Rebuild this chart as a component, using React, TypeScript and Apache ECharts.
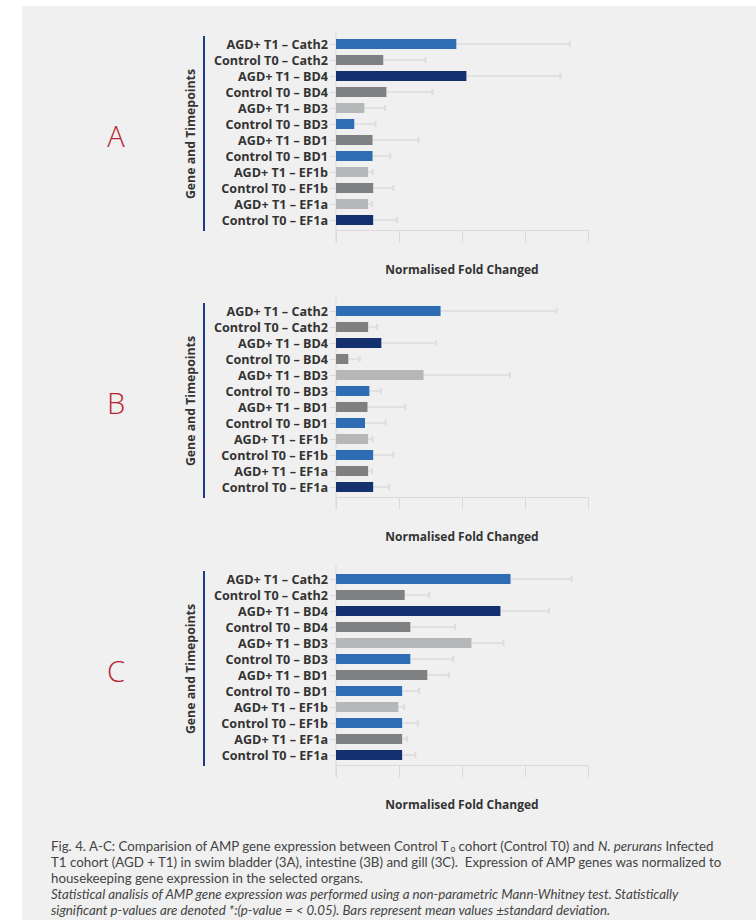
import React, { useEffect, useRef } from "react";
import * as echarts from "echarts";

const categories = [
  "AGD+ T1 – Cath2",
  "Control T0 – Cath2",
  "AGD+ T1 – BD4",
  "Control T0 – BD4",
  "AGD+ T1 – BD3",
  "Control T0 – BD3",
  "AGD+ T1 – BD1",
  "Control T0 – BD1",
  "AGD+ T1 – EF1b",
  "Control T0 – EF1b",
  "AGD+ T1 – EF1a",
  "Control T0 – EF1a",
];

// Panel A – swim bladder
const meanA = [1.91, 0.75, 2.07, 0.8, 0.45, 0.29, 0.58, 0.58, 0.51, 0.59, 0.51, 0.59];
const sdA = [1.8, 0.67, 1.49, 0.73, 0.33, 0.335, 0.73, 0.28, 0.07, 0.32, 0.06, 0.38];
const colorKeysA = ["blue", "gray", "navy", "gray", "light", "blue", "gray", "blue", "light", "gray", "light", "navy"];

// Panel B – intestine
const meanB = [1.66, 0.51, 0.72, 0.195, 1.39, 0.53, 0.5, 0.46, 0.51, 0.59, 0.51, 0.59];
const sdB = [1.84, 0.14, 0.87, 0.18, 1.37, 0.18, 0.6, 0.33, 0.07, 0.32, 0.06, 0.25];
const colorKeysB = ["blue", "gray", "navy", "gray", "light", "blue", "gray", "blue", "light", "blue", "gray", "navy"];

// Panel C – gill
const meanC = [2.77, 1.09, 2.61, 1.18, 2.15, 1.18, 1.45, 1.05, 0.99, 1.05, 1.05, 1.05];
const sdC = [0.97, 0.39, 0.77, 0.71, 0.51, 0.68, 0.34, 0.27, 0.09, 0.25, 0.08, 0.21];
const colorKeysC = ["blue", "gray", "navy", "gray", "light", "blue", "gray", "blue", "light", "blue", "gray", "navy"];

const panelLetters = ["A", "B", "C"];
const xAxisTitle = "Normalised Fold Changed";
const yAxisTitle = "Gene and Timepoints";

const palette: Record<string, string> = {
  blue: "#2e6cb4",
  gray: "#7f8082",
  navy: "#15306e",
  light: "#b5b7b8",
};

const FONT = "'Open Sans', Lato, sans-serif";
const CAP_FONT = "Lato, 'Open Sans', sans-serif";
const AXIS_GRAY = "#d9dad9";
const ERR_GRAY = "#dcdddc";

export default function App() {
  const ref = useRef<HTMLDivElement>(null);

  useEffect(() => {
    document.body.style.margin = "0";
    const chart = echarts.init(ref.current!, null, { renderer: "svg" });

    const panels = [
      { mean: meanA, sd: sdA, keys: colorKeysA, top: 36 },
      { mean: meanB, sd: sdB, keys: colorKeysB, top: 303 },
      { mean: meanC, sd: sdC, keys: colorKeysC, top: 571 },
    ];
    const gridH = 192;
    const gridLeft = 336;
    const gridW = 252;
    const axisOffset = 2.5;

    const grid: any[] = [];
    const xAxis: any[] = [];
    const yAxis: any[] = [];
    const series: any[] = [];
    const graphic: any[] = [
      {
        type: "rect",
        shape: { x: 22, y: 6, width: 756 - 22, height: 920 - 6 },
        style: { fill: "#eff0ef" },
        z: -10,
      },
    ];

    panels.forEach((p, i) => {
      grid.push({ left: gridLeft, top: p.top, width: gridW, height: gridH });
      xAxis.push({
        gridIndex: i,
        type: "value",
        min: 0,
        max: 4,
        interval: 1,
        offset: axisOffset,
        axisLabel: { show: false },
        axisLine: { show: true, lineStyle: { color: AXIS_GRAY, width: 1 } },
        axisTick: { show: true, length: 12, lineStyle: { color: AXIS_GRAY, width: 1 } },
        splitLine: { show: false },
        name: xAxisTitle,
        nameLocation: "middle",
        nameGap: 33,
        nameTextStyle: { fontFamily: FONT, fontWeight: "bold", fontSize: 12, color: "#333" },
      });
      yAxis.push({
        gridIndex: i,
        type: "category",
        data: categories,
        inverse: true,
        axisLine: { show: false },
        axisTick: { show: true, alignWithLabel: true, interval: 0, length: 6, lineStyle: { color: AXIS_GRAY } },
        axisLabel: {
          interval: 0,
          fontFamily: FONT,
          fontWeight: "bold",
          fontSize: 12.6,
          lineHeight: 14,
          color: "#333",
          margin: 8,
        },
      });
      series.push({
        type: "bar",
        xAxisIndex: i,
        yAxisIndex: i,
        barWidth: 10,
        data: p.mean.map((v, k) => ({ value: v, itemStyle: { color: palette[p.keys[k]] } })),
        z: 3,
      });
      series.push({
        type: "custom",
        xAxisIndex: i,
        yAxisIndex: i,
        encode: { x: 0, y: 1 },
        data: p.mean.map((v, k) => [v, k, p.sd[k]]),
        z: 2,
        renderItem: (params: any, api: any) => {
          const m = api.value(0);
          const c = api.value(1);
          const s = api.value(2);
          const a = api.coord([m, c]);
          const b = api.coord([m + s, c]);
          const st = { stroke: ERR_GRAY, lineWidth: 1.5 };
          return {
            type: "group",
            children: [
              { type: "line", shape: { x1: a[0], y1: a[1], x2: b[0], y2: b[1] }, style: st },
              { type: "line", shape: { x1: b[0], y1: b[1] - 3, x2: b[0], y2: b[1] + 3 }, style: { stroke: ERR_GRAY, lineWidth: 2 } },
            ],
          };
        },
      });

      // vertical axis line (extended above and below the grid)
      graphic.push({
        type: "line",
        shape: { x1: gridLeft, y1: p.top - 6, x2: gridLeft, y2: p.top + gridH + axisOffset + 12 },
        style: { stroke: AXIS_GRAY, lineWidth: 1 },
        z: 1,
      });
      // blue bracket line
      graphic.push({
        type: "line",
        shape: { x1: 204, y1: p.top, x2: 204, y2: p.top + gridH + 3 },
        style: { stroke: "#1e3a8a", lineWidth: 2 },
      });
      // y axis title
      graphic.push({
        type: "text",
        x: 190.5,
        y: p.top + gridH / 2 + 2,
        rotation: Math.PI / 2,
        style: {
          text: yAxisTitle,
          fontFamily: FONT,
          fontWeight: "bold",
          fontSize: 12.3,
          fill: "#333",
          align: "center",
          verticalAlign: "middle",
        },
      });
      // panel letter
      graphic.push({
        type: "text",
        x: 116,
        y: p.top + gridH / 2 + 3,
        style: {
          text: panelLetters[i],
          fontFamily: "'Open Sans', Lato, sans-serif",
          fontWeight: 300,
          fontSize: 29,
          fill: "#b8232f",
          align: "center",
          verticalAlign: "middle",
        },
      });
    });

    const capSize = 13.3;
    const capColor = "#444";
    const rich = {
      n: { fontFamily: CAP_FONT, fontSize: capSize, lineHeight: 14, color: capColor },
      i: { fontFamily: CAP_FONT, fontSize: capSize, lineHeight: 14, fontStyle: "italic", color: capColor },
      sub: { fontFamily: CAP_FONT, fontSize: 8.5, lineHeight: 14, verticalAlign: "bottom", color: capColor },
    };
    const captionLines = [
      "{n|Fig. 4. A-C: Comparision of AMP gene expression between Control T}{sub|o}{n| cohort (Control T0) and }{i|N. perurans}{n| Infected}",
      "{n|T1 cohort (AGD + T1) in swim bladder (3A), intestine (3B) and gill (3C).  Expression of AMP genes was normalized to}",
      "{n|housekeeping gene expression in the selected organs.}",
      "{i|Statistical analisis of AMP gene expression was performed using a non-parametric Mann-Whitney test. Statistically}",
      "{i|significant p-values are denoted *:(p-value = < 0.05). Bars represent mean values ±standard deviation.}",
    ];
    const lineY = [846, 862, 878, 894, 910];
    captionLines.forEach((t, k) => {
      graphic.push({
        type: "text",
        x: 51,
        y: lineY[k],
        style: { text: t, rich, verticalAlign: "middle", align: "left", fill: capColor },
      });
    });

    chart.setOption({
      animation: false,
      backgroundColor: "#ffffff",
      grid,
      xAxis,
      yAxis,
      series,
      graphic,
    });

    return () => chart.dispose();
  }, []);

  return <div ref={ref} style={{ width: 756, height: 920 }} />;
}
